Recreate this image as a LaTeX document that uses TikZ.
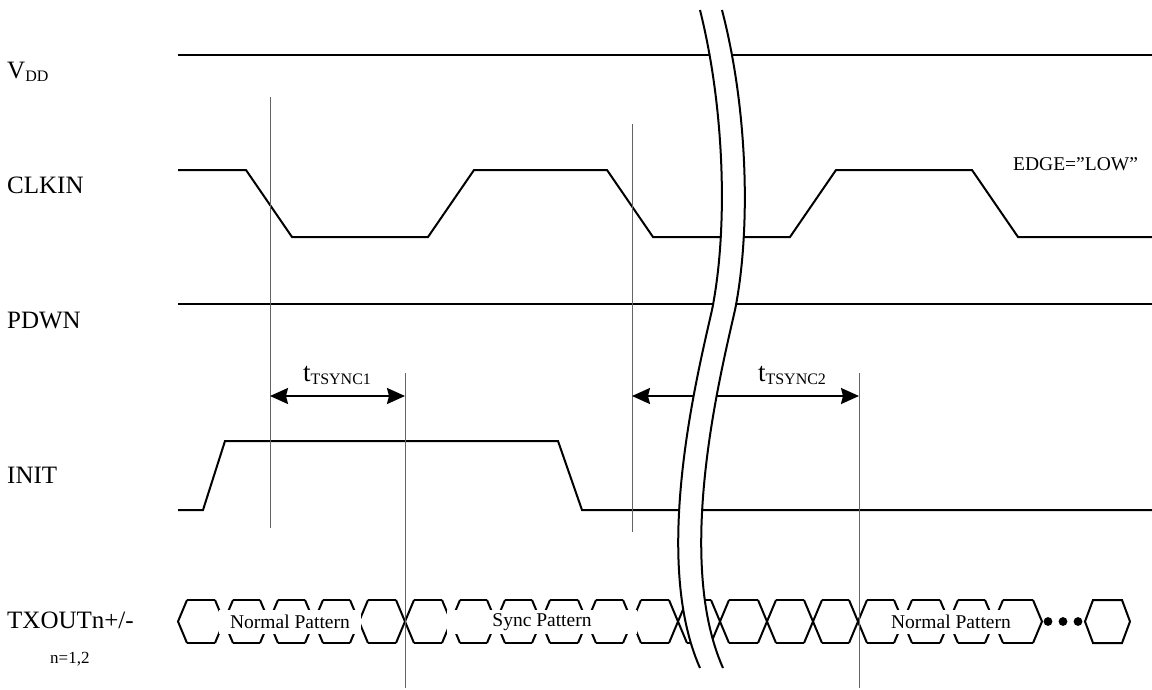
\documentclass[tikz,border=0pt]{standalone}
\usepackage{fontspec}
\setmainfont{Liberation Serif}
\usetikzlibrary{arrows.meta, positioning, calc}
\definecolor{markgray}{RGB}{100,100,100}

\newcommand{\subtxt}[1]{\raisebox{-3pt}{\fontsize{16}{18}\selectfont #1}}

\tikzset{
  sig/.style={line width=2pt, line join=miter},
  marker/.style={line width=1pt, draw=markgray},
  dimarrow/.style={line width=2pt, {Stealth[length=18pt,width=16pt,inset=2pt]}-{Stealth[length=18pt,width=16pt,inset=2pt]}},
  siglabel/.style={anchor=base west, inner sep=0pt, font=\fontsize{25}{30}\selectfont},
  patbox/.style={fill=white, inner sep=0pt, minimum height=24pt, font=\fontsize{19.5}{22}\selectfont},
}

\begin{document}
\begin{tikzpicture}[x=1pt, y=-1pt]
  \useasboundingbox (0,0) rectangle (1152,689);

  % signal names
  \node[siglabel] (vddlbl) at (7,78) {V\subtxt{DD}};
  \node[siglabel] (clklbl) at (7,193) {CLKIN};
  \node[siglabel] (pdwnlbl) at (7,328) {PDWN};
  \node[siglabel] (initlbl) at (7,483) {INIT};
  \node[siglabel] (txlbl) at (7,628) {TXOUTn+/-};
  \node[anchor=base west, inner sep=0pt, font=\fontsize{17}{20}\selectfont] (nlbl) at (50,663) {n=1,2};

  % waveforms
  \draw[sig] (178,55) -- (1152,55);
  \draw[sig] (178,170) -- (246,170) -- (292,237) -- (428,237) -- (474,170) -- (607,170)
    -- (653,237) -- (790,237) -- (836,170) -- (972,170) -- (1018,237) -- (1152,237);
  \draw[sig] (178,304) -- (1152,304);
  \draw[sig] (178,510) -- (203,510) -- (225,441) -- (558,441) -- (582,510) -- (1152,510);

  \node[anchor=base west, inner sep=0pt, font=\fontsize{19.5}{22}\selectfont] (edgelbl) at (1013,170) {EDGE=''LOW''};

  % data eye
  \foreach \a/\b in {178/224,224/269,269/314,314/359,359/405,405/451,451/496,496/541,541/587,587/632,
                     632/678,678/720,720/767,767/813,813/858,858/903,903/949,949/994,994/1042} {
    \draw[sig] ({\a+9},600) -- ({\b-9},600);
    \draw[sig] ({\a+9},643) -- ({\b-9},643);
  }
  \foreach \c in {224,269,314,359,405,451,496,541,587,632,678,720,767,813,858,903,949,994} {
    \draw[sig] ({\c-9},600) -- ({\c+9},643);
    \draw[sig] ({\c-9},643) -- ({\c+9},600);
  }
  \draw[sig] (187,600) -- (178,621.5) -- (187,643);
  \draw[sig] (1033,600) -- (1042,621.5) -- (1033,643);
  \foreach \x in {1048,1063,1078}
    \fill (\x,621.5) circle (4.4pt);
  \draw[sig] (1085,621.5) -- (1093,600) -- (1122,600) -- (1130,621.5) -- (1122,643) -- (1093,643) -- cycle;

  \node[patbox, minimum width=142pt] (normal1) at (290,622) {Normal Pattern};
  \node[patbox, minimum width=190pt] (sync) at (542,622) {Sync Pattern};
  \node[patbox, minimum width=110pt] (normal2) at (951,622) {Normal Pattern};

  % timing markers
  \draw[marker] (270,97) -- (270,528);
  \draw[marker] (405,373) -- (405,688);
  \draw[marker] (632,124) -- (632,532);
  \draw[marker] (859,373) -- (859,688);

  \coordinate (s1a) at (270,396);
  \coordinate (s1b) at (405,396);
  \coordinate (s2a) at (632,396);
  \coordinate (s2b) at (859,396);
  \draw[dimarrow] (s1a) -- (s1b);
  \draw[dimarrow] (s2a) -- (s2b);
  \node[anchor=base, inner sep=0pt, font=\fontsize{27}{30}\selectfont] (t1lbl) at (337,381) {t\subtxt{TSYNC1}};
  \node[anchor=base, inner sep=0pt, font=\fontsize{27}{30}\selectfont] (t2lbl) at (792,381) {t\subtxt{TSYNC2}};

  % time break
  \fill[white] (700,10) .. controls (725,110) and (728,230) .. (712,310)
    .. controls (696,380) and (652,560) .. (700,668) -- (723,668)
    .. controls (675,560) and (719,380) .. (735,310)
    .. controls (751,230) and (748,110) .. (722,10) -- cycle;
  \draw[sig] (700,10) .. controls (725,110) and (728,230) .. (712,310)
    .. controls (696,380) and (652,560) .. (700,668);
  \draw[sig] (722,10) .. controls (748,110) and (751,230) .. (735,310)
    .. controls (719,380) and (675,560) .. (723,668);
\end{tikzpicture}
\end{document}
